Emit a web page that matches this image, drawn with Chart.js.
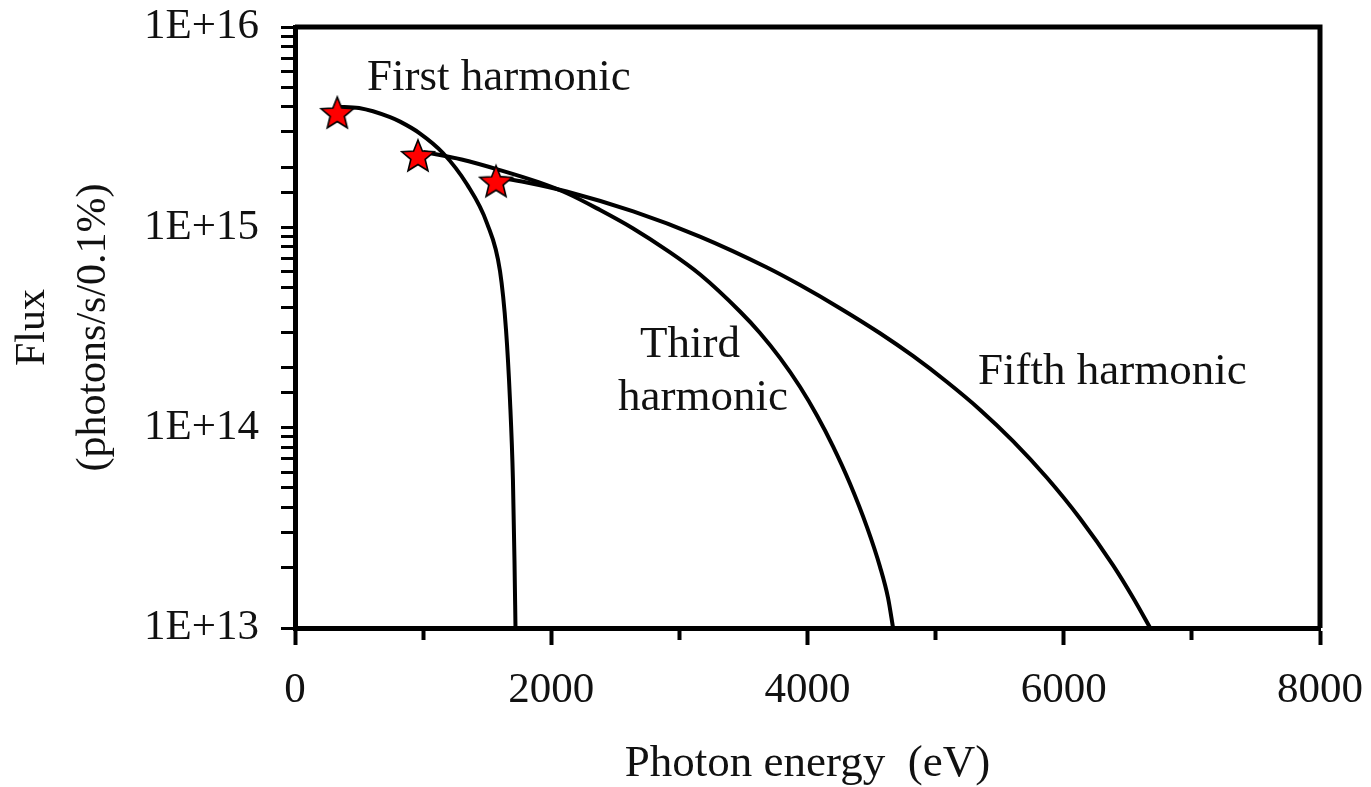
<!DOCTYPE html>
<html>
<head>
<meta charset="utf-8">
<script src="https://cdn.jsdelivr.net/npm/chart.js@4"></script>
<style>
  body { margin: 0; background: #fff; }
  #wrap { width: 1371px; height: 787px; }
</style>
</head>
<body>
<div id="wrap"><canvas id="fluxChart" width="1371" height="787"></canvas></div>
<script>
// photon energy (eV) / flux (photons/s/0.1%)
const firstEnergy = [330, 500, 742, 820, 976, 1155, 1342, 1498, 1600, 1647, 1678, 1701, 1713, 1721];
const firstFlux = [4.0e15, 3.94e15, 3.55e15, 3.37e15, 2.94e15, 2.35e15, 1.64e15, 1.05e15, 6.05e14, 3.08e14, 1.37e14, 5.48e13, 2.18e13, 1.0e13];

const thirdEnergy = [1000, 1300, 1600, 1900, 2123, 2381, 2639, 2904, 3162, 3473, 3629, 3785, 3941, 4074, 4199, 4332, 4465, 4566, 4629, 4668];
const thirdFlux = [2.38e15, 2.18e15, 1.93e15, 1.68e15, 1.48e15, 1.22e15, 9.87e14, 7.67e14, 5.81e14, 3.80e14, 2.97e14, 2.23e14, 1.60e14, 1.15e14, 8.07e13, 5.25e13, 3.18e13, 2.02e13, 1.41e13, 1.0e13];

const fifthEnergy = [1570, 1800, 2120, 2640, 3160, 3680, 3942, 4250, 4566, 4823, 5089, 5346, 5604, 5869, 6127, 6384, 6540, 6675];
const fifthFlux = [1.78e15, 1.68e15, 1.51e15, 1.20e15, 8.99e14, 6.32e14, 5.15e14, 3.96e14, 2.96e14, 2.28e14, 1.69e14, 1.23e14, 8.57e13, 5.62e13, 3.52e13, 2.06e13, 1.42e13, 1.0e13];

// red stars at the start of each harmonic
const starEnergy = [330, 960, 1569];
const starFlux = [3.72e15, 2.27e15, 1.69e15];

// curve labels, anchored (left, middle) in data units
const noteTexts = ['First harmonic', 'Third', 'harmonic', 'Fifth harmonic'];
const noteEnergy = [562, 2693, 2521, 5330];
const noteFlux = [5.57e15, 2.59e14, 1.41e14, 1.90e14];

const serif = "'Liberation Serif', 'Times New Roman', serif";

function toPoints(xs, ys) {
    return xs.map((x, i) => ({ x: x, y: ys[i] }));
}

// five-point star used as the marker image
function makeStar() {
    const c = document.createElement('canvas');
    c.width = 40; c.height = 40;
    const g = c.getContext('2d');
    g.beginPath();
    for (let i = 0; i < 10; i++) {
        const r = i % 2 === 0 ? 17 : 7.5;
        const a = -Math.PI / 2 + i * Math.PI / 5;
        const px = 20 + r * Math.cos(a), py = 21 + r * Math.sin(a);
        if (i === 0) g.moveTo(px, py); else g.lineTo(px, py);
    }
    g.closePath();
    g.fillStyle = '#ff0000';
    g.fill();
    g.lineWidth = 1.6;
    g.strokeStyle = '#000';
    g.stroke();
    return c;
}

const framePlugin = {
    id: 'frame',
    afterDraw(chart) {
        const { ctx, chartArea: a } = chart;
        ctx.save();
        ctx.strokeStyle = '#000';
        ctx.lineWidth = 5;
        ctx.beginPath();
        ctx.moveTo(a.left, a.top);
        ctx.lineTo(a.right, a.top);
        ctx.lineTo(a.right, a.bottom);
        ctx.stroke();
        ctx.restore();
    }
};

const notesPlugin = {
    id: 'notes',
    afterDatasetsDraw(chart) {
        const { ctx, scales } = chart;
        ctx.save();
        ctx.fillStyle = '#111';
        ctx.font = '45px ' + serif;
        ctx.textAlign = 'left';
        ctx.textBaseline = 'middle';
        noteTexts.forEach((t, i) => {
            ctx.fillText(t, scales.x.getPixelForValue(noteEnergy[i]), scales.y.getPixelForValue(noteFlux[i]));
        });
        ctx.restore();
    }
};

const lineStyle = {
    type: 'line',
    borderColor: '#000',
    borderWidth: 4,
    pointRadius: 0,
    fill: false,
    tension: 0.4,
    cubicInterpolationMode: 'monotone',
    order: 1
};

new Chart(document.getElementById('fluxChart'), {
    type: 'line',
    data: {
        datasets: [
            {
                type: 'scatter',
                label: 'Start points',
                data: toPoints(starEnergy, starFlux),
                pointStyle: makeStar(),
                pointRadius: 17,
                showLine: false,
                order: 0
            },
            Object.assign({ label: 'First harmonic', data: toPoints(firstEnergy, firstFlux) }, lineStyle),
            Object.assign({ label: 'Third harmonic', data: toPoints(thirdEnergy, thirdFlux) }, lineStyle),
            Object.assign({ label: 'Fifth harmonic', data: toPoints(fifthEnergy, fifthFlux) }, lineStyle)
        ]
    },
    options: {
        responsive: false,
        animation: false,
        layout: { padding: { left: 0, right: 51, top: 27, bottom: 0 } },
        plugins: {
            legend: { display: false },
            tooltip: { enabled: false }
        },
        scales: {
            x: {
                type: 'linear',
                min: 0,
                max: 8000,
                afterFit: (s) => { s.height = 159; s.paddingLeft = 0; s.paddingRight = 0; },
                border: { display: true, color: '#000', width: 5 },
                grid: {
                    drawOnChartArea: false,
                    drawTicks: true,
                    tickLength: 17,
                    tickWidth: 4,
                    tickColor: '#000',
                    tickBorderDash: (c) => (c.tick && c.tick.value % 2000 !== 0) ? [9, 100] : []
                },
                ticks: {
                    stepSize: 1000,
                    autoSkip: false,
                    maxRotation: 0,
                    padding: 20,
                    color: '#111',
                    font: { family: serif, size: 43 },
                    callback: (v) => v % 2000 === 0 ? String(v) : ''
                },
                title: {
                    display: true,
                    text: 'Photon energy  (eV)',
                    color: '#111',
                    font: { family: serif, size: 45, lineHeight: 1 },
                    padding: { top: 0, bottom: 0 }
                }
            },
            y: {
                type: 'logarithmic',
                min: 1e13,
                max: 1e16,
                afterFit: (s) => { s.width = 295; s.paddingTop = 0; s.paddingBottom = 0; },
                border: { display: true, color: '#000', width: 5 },
                grid: {
                    drawOnChartArea: false,
                    drawTicks: true,
                    tickLength: 14,
                    tickWidth: 3,
                    tickColor: '#000'
                },
                ticks: {
                    autoSkip: false,
                    padding: 22,
                    color: '#111',
                    font: { family: serif, size: 43 },
                    callback: (v) => {
                        const e = Math.log10(v);
                        return Math.abs(e - Math.round(e)) < 1e-6 ? '1E+' + Math.round(e) : '';
                    }
                },
                title: {
                    display: true,
                    text: ['Flux', '(photons/s/0.1%)'],
                    color: '#111',
                    font: { family: serif, size: 42, lineHeight: 1.45 },
                    padding: { top: 3, bottom: 0 }
                }
            }
        }
    },
    plugins: [framePlugin, notesPlugin]
});
</script>
</body>
</html>
